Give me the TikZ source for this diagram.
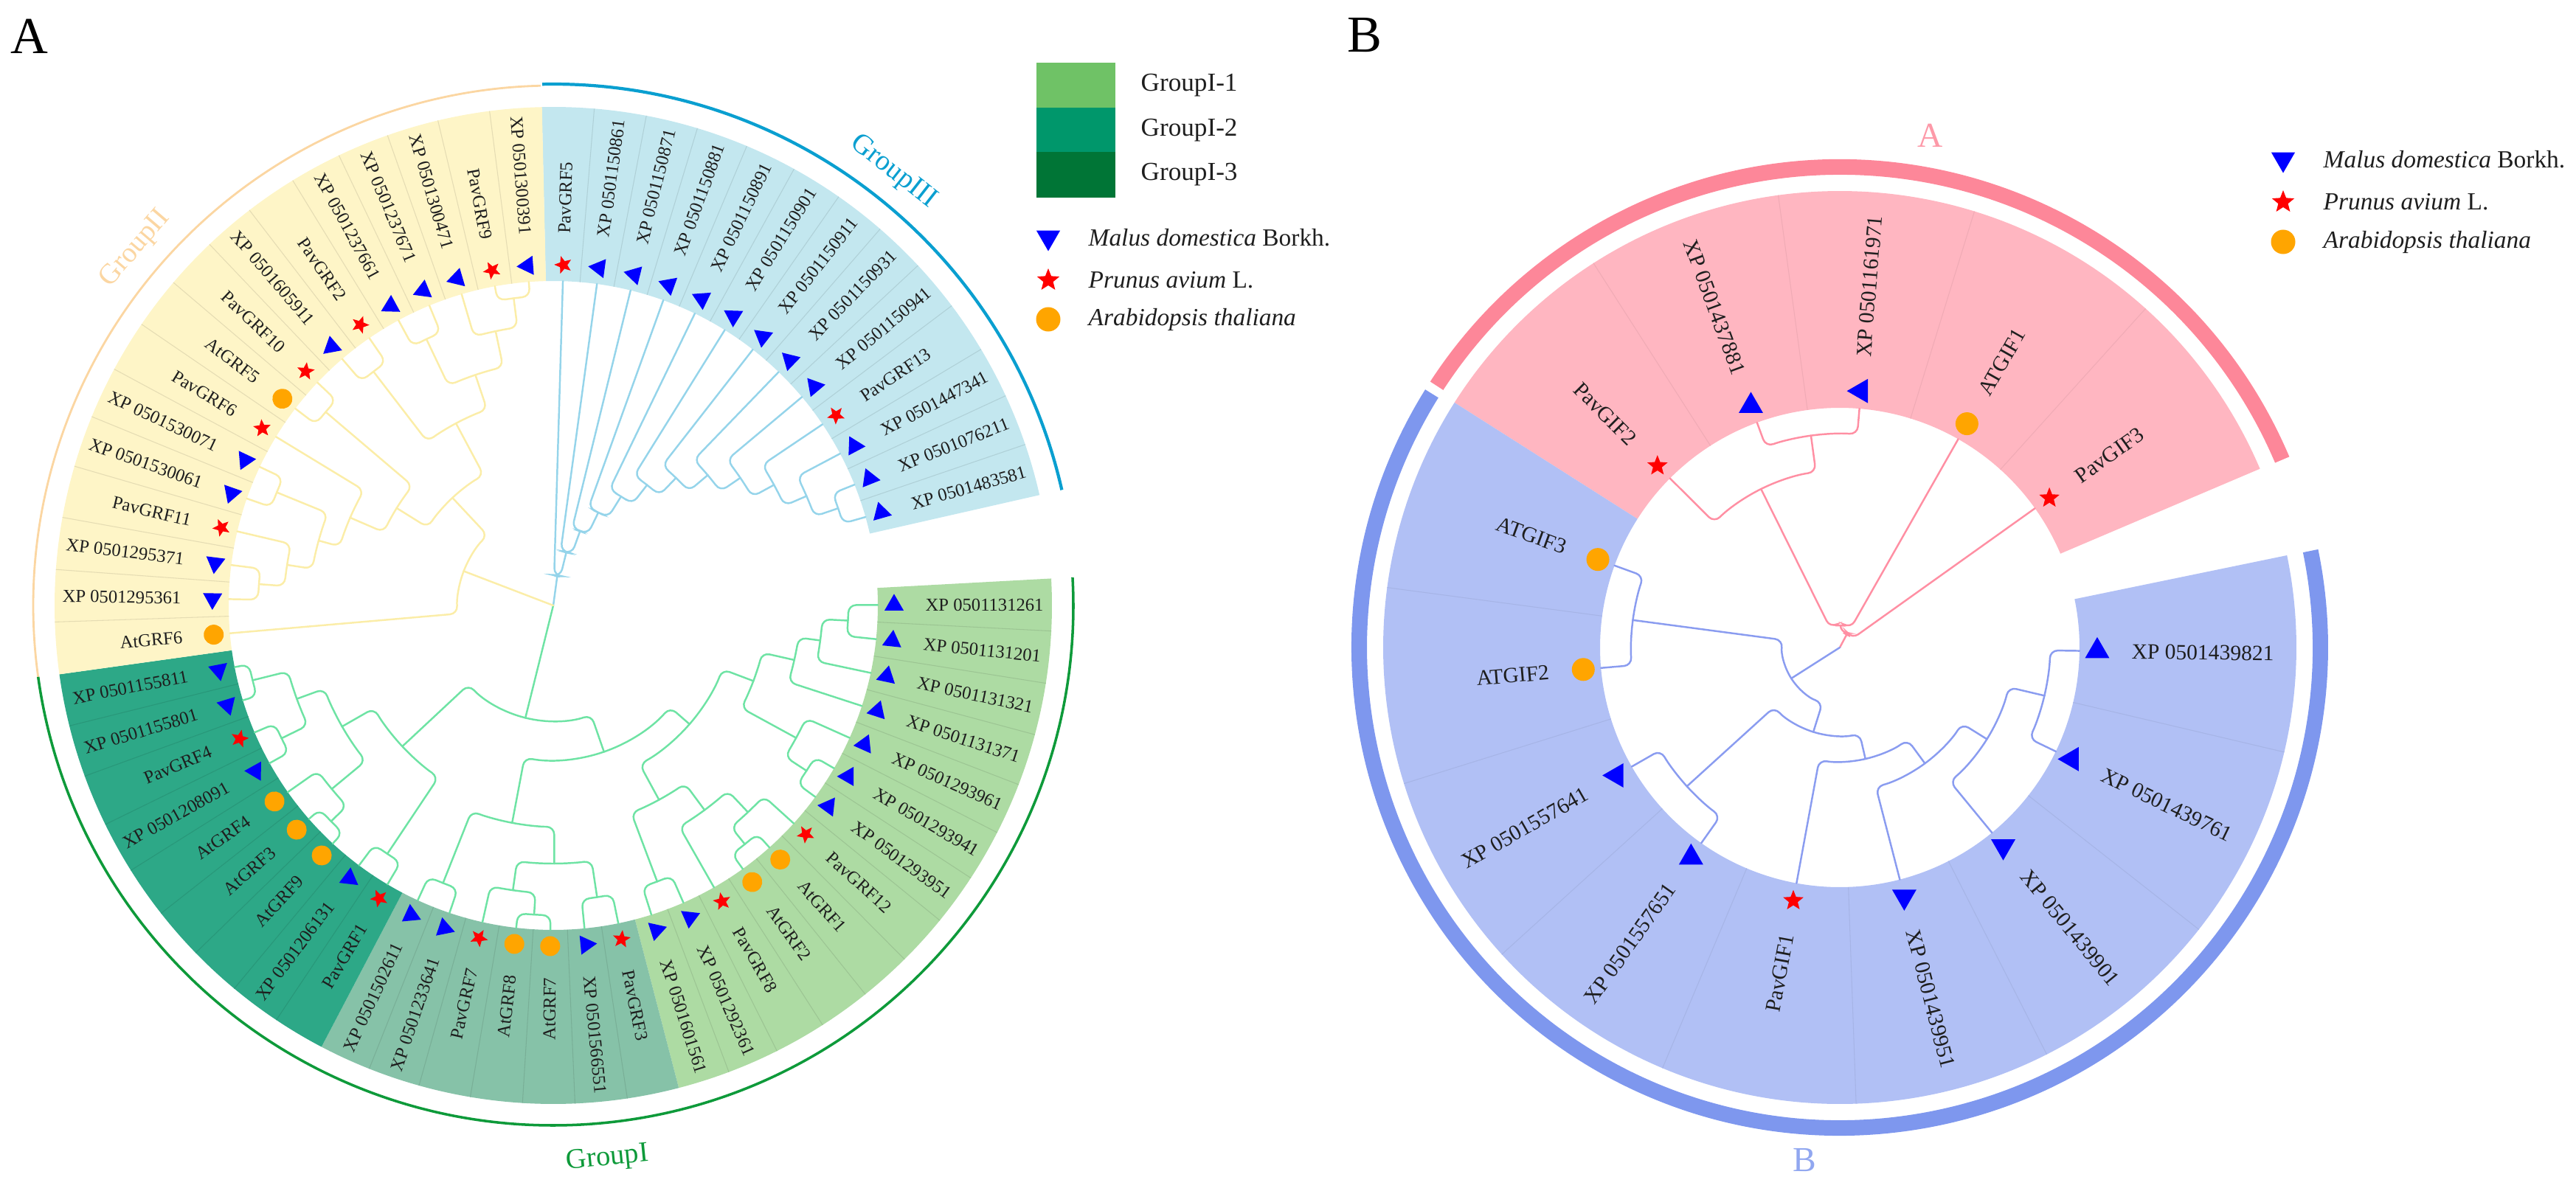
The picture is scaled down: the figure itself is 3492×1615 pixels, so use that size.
\documentclass[tikz,border=0pt]{standalone}
\usepackage{fontspec}
\setmainfont{Liberation Serif}
\usetikzlibrary{shapes.geometric}

\definecolor{bandII}{HTML}{FEF5C7}
\definecolor{bandIII}{HTML}{C3E7EF}
\definecolor{bandIa}{HTML}{ADDBA3}
\definecolor{bandIb}{HTML}{86C2A8}
\definecolor{bandIc}{HTML}{2DA887}
\definecolor{treeII}{HTML}{FBEDA8}
\definecolor{treeIII}{HTML}{95D4EA}
\definecolor{treeI}{HTML}{6EE3A4}
\definecolor{arcII}{HTML}{FBD6A2}
\definecolor{arcIII}{HTML}{0A9FD0}
\definecolor{arcI}{HTML}{0E9A3A}
\definecolor{legIa}{HTML}{6FC266}
\definecolor{legIb}{HTML}{00976B}
\definecolor{legIc}{HTML}{007536}
\definecolor{bandA}{HTML}{FFB6C1}
\definecolor{bandB}{HTML}{B1C0F5}
\definecolor{ringA}{HTML}{FD8799}
\definecolor{ringB}{HTML}{7E97EE}
\definecolor{treeA}{HTML}{FF8FA3}
\definecolor{treeB}{HTML}{8A9CF0}
\definecolor{malus}{HTML}{0000FF}
\definecolor{prunus}{HTML}{FF0000}
\definecolor{arab}{HTML}{FFA500}
\definecolor{leafgray}{HTML}{1E1E1E}

% one branch of a clade: in from the child, then along the arc of the clade
\newcommand{\stem}[4]{%
  \edef\brA{\csname a#2\endcsname}\edef\brR{\csname r#2\endcsname}%
  \draw[branch,#1] (\brA:\brR) -- (\brA:#3) arc[start angle=\brA, end angle=#4, radius=#3];}
\newcommand{\clade}[5][]{%
  \edef\chA{\csname a#3\endcsname}\edef\chB{\csname a#4\endcsname}%
  \pgfmathsetmacro{\midang}{(\chA+\chB)/2}%
  \expandafter\xdef\csname a#2\endcsname{\midang}%
  \expandafter\xdef\csname r#2\endcsname{#5}%
  \stem{#1}{#3}{#5}{\midang}\stem{#1}{#4}{#5}{\midang}}
\newcommand{\rootline}[2]{%
  \edef\brA{\csname a#2\endcsname}\edef\brR{\csname r#2\endcsname}%
  \draw[branch,#1] (\brA:\brR) -- (0,0);}

\begin{document}
\begin{tikzpicture}[x=0.01cm,y=0.01cm,
branch/.style={line width=0.7pt, rounded corners=3pt, line cap=round},
sepline/.style={line width=0.3pt},
leafA/.style={font=\fontsize{7}{8}\selectfont, text=leafgray, inner sep=0pt},
leafB/.style={font=\fontsize{8.4}{10}\selectfont, text=leafgray, inner sep=0pt},
mkA-t/.style={regular polygon, regular polygon sides=3, fill=malus, minimum size=0.30cm, inner sep=0pt},
mkA-s/.style={star, star points=5, star point ratio=2.3, fill=prunus, minimum size=0.25cm, inner sep=0pt},
mkA-c/.style={circle, fill=arab, minimum size=0.27cm, inner sep=0pt},
mkB-t/.style={regular polygon, regular polygon sides=3, fill=malus, minimum size=0.38cm, inner sep=0pt},
mkB-s/.style={star, star points=5, star point ratio=2.3, fill=prunus, minimum size=0.29cm, inner sep=0pt},
mkB-c/.style={circle, fill=arab, minimum size=0.31cm, inner sep=0pt},
grouplab/.style={font=\fontsize{11}{13}\selectfont, inner sep=0pt},
legbox/.style={minimum width=1.07cm, minimum height=0.61cm, inner sep=0pt},
legtxt/.style={font=\fontsize{9.5}{12}\selectfont, anchor=west, inner sep=0pt, text=leafgray},
panel/.style={font=\fontsize{20}{24}\selectfont, inner sep=0pt}]

\useasboundingbox (0,0) rectangle (3492,-1615);

\node[panel] (pa) at (40,-49) {A};
\node[panel] (pb) at (1850,-48) {B};

%%% A: GRF tree
\begin{scope}[shift={(750,-821)}]
\foreach \lab/\mk/\grp [count=\i from 0] in {PavGRF5/s/III, XP 0501150861/t/III,
  XP 0501150871/t/III, XP 0501150881/t/III, XP 0501150891/t/III, XP 0501150901/t/III,
  XP 0501150911/t/III, XP 0501150931/t/III, XP 0501150941/t/III, PavGRF13/s/III,
  XP 0501447341/t/III, XP 0501076211/t/III, XP 0501483581/t/III,
  XP 0501131261/t/Ia, XP 0501131201/t/Ia, XP 0501131321/t/Ia, XP 0501131371/t/Ia,
  XP 0501293961/t/Ia, XP 0501293941/t/Ia, XP 0501293951/t/Ia, PavGRF12/s/Ia,
  AtGRF1/c/Ia, AtGRF2/c/Ia, PavGRF8/s/Ia, XP 0501292361/t/Ia, XP 0501601561/t/Ia,
  PavGRF3/s/Ib, XP 0501566551/t/Ib, AtGRF7/c/Ib, AtGRF8/c/Ib, PavGRF7/s/Ib,
  XP 0501233641/t/Ib, XP 0501502611/t/Ib,
  PavGRF1/s/Ic, XP 0501206131/t/Ic, AtGRF9/c/Ic, AtGRF3/c/Ic, AtGRF4/c/Ic,
  XP 0501208091/t/Ic, PavGRF4/s/Ic, XP 0501155801/t/Ic, XP 0501155811/t/Ic,
  AtGRF6/c/II, XP 0501295361/t/II, XP 0501295371/t/II, PavGRF11/s/II,
  XP 0501530061/t/II, XP 0501530071/t/II, PavGRF6/s/II, AtGRF5/c/II, PavGRF10/s/II,
  XP 0501605911/t/II, PavGRF2/s/II, XP 0501237661/t/II, XP 0501237671/t/II,
  XP 0501300471/t/II, PavGRF9/s/II, XP 0501300391/t/II}{
  \pgfmathsetmacro{\ang}{88.3-6.04*\i-(\i>12)*9.7+(\i>41)*360}
  \expandafter\xdef\csname aA\i\endcsname{\ang}
  \expandafter\xdef\csname rA\i\endcsname{440}
  \pgfmathsetmacro{\angl}{\ang-3.02}
  \pgfmathsetmacro{\angr}{\ang+3.02}
  \fill[band\grp] (\angl:440) arc[start angle=\angl, end angle=\angr, radius=440]
    -- (\angr:676) arc[start angle=\angr, end angle=\angl, radius=676] -- cycle;
  \pgfmathtruncatemacro{\first}{(\i==0)+(\i==13)+(\i==26)+(\i==33)+(\i==42)}
  \ifnum\first=0
    \draw[sepline, draw=band\grp!90!black] (\angr:440) -- (\angr:676);
  \fi
  \node[mkA-\mk, rotate=\ang] (ma\i) at (\ang:462) {};
  \pgfmathtruncatemacro{\lft}{cos(\ang)<0}
  \ifnum\lft=1
    \pgfmathsetmacro{\rot}{\ang+180}
    \node[leafA, anchor=east, rotate=\rot] (la\i) at (\ang:504) {\lab};
  \else
    \node[leafA, anchor=west, rotate=\ang] (la\i) at (\ang:504) {\lab};
  \fi
}

% GroupIII
\clade[treeIII]{c11}{A11}{A12}{408}
\clade[treeIII]{c10}{A10}{c11}{374}
\clade[treeIII]{c9}{A9}{c10}{341}
\clade[treeIII]{c8}{A8}{c9}{307}
\clade[treeIII]{c7}{A7}{c8}{274}
\clade[treeIII]{c6}{A6}{c7}{240}
\clade[treeIII]{c5}{A5}{c6}{207}
\clade[treeIII]{c4}{A4}{c5}{174}
\clade[treeIII]{c3}{A3}{c4}{140}
\clade[treeIII]{c2}{A2}{c3}{107}
\clade[treeIII]{c1}{A1}{c2}{74}
\clade[treeIII]{c0}{A0}{c1}{40}
% GroupI
\clade[treeI]{g1}{A13}{A14}{400}
\clade[treeI]{g2}{g1}{A15}{365}
\clade[treeI]{g3}{g2}{A16}{335}
\clade[treeI]{g4a}{A18}{A19}{410}
\clade[treeI]{g4}{A17}{g4a}{375}
\clade[treeI]{g5}{g3}{g4}{290}
\clade[treeI]{g6a}{A21}{A22}{415}
\clade[treeI]{g6}{A20}{g6a}{385}
\clade[treeI]{g7}{g6}{A23}{345}
\clade[treeI]{g8}{A24}{A25}{400}
\clade[treeI]{g9}{g7}{g8}{300}
\clade[treeI]{g10}{g5}{g9}{245}
\clade[treeI]{h1}{A26}{A27}{400}
\clade[treeI]{h2a}{A28}{A29}{420}
\clade[treeI]{h2}{h2a}{A30}{390}
\clade[treeI]{h3}{h1}{h2}{350}
\clade[treeI]{h4}{A31}{A32}{405}
\clade[treeI]{h5}{h3}{h4}{300}
\clade[treeI]{k1}{A33}{A34}{405}
\clade[treeI]{k2a}{A35}{A36}{420}
\clade[treeI]{k2}{k2a}{A37}{390}
\clade[treeI]{k3a}{A38}{A39}{410}
\clade[treeI]{k3b}{A40}{A41}{420}
\clade[treeI]{k3}{k3a}{k3b}{370}
\clade[treeI]{k4}{k2}{k3}{330}
\clade[treeI]{k5}{k1}{k4}{280}
\clade[treeI]{m1}{g10}{h5}{210}
\clade[treeI]{gI}{m1}{k5}{157}
% GroupII
\clade[treeII]{n1}{A43}{A44}{400}
\clade[treeII]{n2}{n1}{A45}{365}
\clade[treeII]{n3}{A46}{A47}{405}
\clade[treeII]{n4}{n2}{n3}{330}
\clade[treeII]{n5}{n4}{A48}{300}
\clade[treeII]{n6}{A49}{A50}{405}
\clade[treeII]{n7}{n5}{n6}{250}
\clade[treeII]{n8}{A51}{A52}{400}
\clade[treeII]{n9}{A53}{A54}{400}
\clade[treeII]{n10a}{A56}{A57}{420}
\clade[treeII]{n10}{A55}{n10a}{380}
\clade[treeII]{n11}{n9}{n10}{330}
\clade[treeII]{n12}{n8}{n11}{280}
\clade[treeII]{n13}{n7}{n12}{200}
\clade[treeII]{gII}{A42}{n13}{130}
\rootline{treeIII}{c0}
\rootline{treeI}{gI}
\rootline{treeII}{gII}

\draw[arcII, line width=0.8pt] (187.9:705) arc[start angle=187.9, end angle=91.4, radius=705];
\draw[arcIII, line width=1.2pt] (91.2:707) arc[start angle=91.2, end angle=12.8, radius=707];
\draw[arcI, line width=1pt] (3.1:705) arc[start angle=3.1, end angle=-172.1, radius=705];
\node[grouplab, text=arcII, rotate=49.5] (gl2) at (139.5:745) {GroupII};
\node[grouplab, text=arcIII, rotate=-38.1] (gl3) at (51.9:747) {GroupIII};
\node[grouplab, text=arcI, rotate=5.6] (gl1) at (-84.4:754) {GroupI};
\end{scope}

% legend of A
\node[legbox, fill=legIa] (box1) at (1458.5,-115.5) {};
\node[legbox, fill=legIb] (box2) at (1458.5,-176.5) {};
\node[legbox, fill=legIc] (box3) at (1458.5,-237) {};
\node[legtxt, font=\fontsize{10}{12}\selectfont] (tb1) at (1546,-115.5) {GroupI-1};
\node[legtxt, font=\fontsize{10}{12}\selectfont] (tb2) at (1546,-176.5) {GroupI-2};
\node[legtxt, font=\fontsize{10}{12}\selectfont] (tb3) at (1546,-237) {GroupI-3};
\node[mkB-t, minimum size=0.37cm, rotate=180] (lm1) at (1421,-322) {};
\node[mkB-s, minimum size=0.32cm] (lm2) at (1421,-380) {};
\node[mkB-c, minimum size=0.33cm] (lm3) at (1421,-433) {};
\node[legtxt] (lt1) at (1475,-322) {\textit{Malus domestica} Borkh.};
\node[legtxt] (lt2) at (1475,-380) {\textit{Prunus avium} L.};
\node[legtxt] (lt3) at (1475,-433) {\textit{Arabidopsis thaliana}};

%%% B: GIF tree
\begin{scope}[shift={(2494,-878)}]
\fill[ringA] (147.0:641) arc[start angle=147.0, end angle=23.0, radius=641]
  -- (23.0:662) arc[start angle=23.0, end angle=147.0, radius=662] -- cycle;
\fill[ringB] (11.6:641) arc[start angle=11.6, end angle=-211.9, radius=641]
  -- (-211.9:662) arc[start angle=-211.9, end angle=11.6, radius=662] -- cycle;
\foreach \lab/\mk/\grp/\tr [count=\i from 0] in {PavGIF2/s/A/0, XP 0501437881/t/A/0,
  XP 0501161971/t/A/90, ATGIF1/c/A/0, PavGIF3/s/A/0, XP 0501439821/t/B/0,
  XP 0501439761/t/B/90, XP 0501439901/t/B/180, XP 0501439951/t/B/180, PavGIF1/s/B/0,
  XP 0501557651/t/B/0, XP 0501557641/t/B/90, ATGIF2/c/B/0, ATGIF3/c/B/0}{
  \pgfmathsetmacro{\ang}{135.1-24.9*\i-(\i>4)*11.4}
  \expandafter\xdef\csname aB\i\endcsname{\ang}
  \expandafter\xdef\csname rB\i\endcsname{325}
  \pgfmathsetmacro{\angl}{\ang-12.45}
  \pgfmathsetmacro{\angr}{\ang+12.45}
  \fill[band\grp] (\angl:325) arc[start angle=\angl, end angle=\angr, radius=325]
    -- (\angr:619) arc[start angle=\angr, end angle=\angl, radius=619] -- cycle;
  \pgfmathtruncatemacro{\first}{(\i==0)+(\i==5)}
  \ifnum\first=0
    \draw[sepline, draw=band\grp!94!black] (\angr:325) -- (\angr:619);
  \fi
  \node[mkB-\mk, rotate=\tr] (mb\i) at (\ang:349) {};
  \pgfmathtruncatemacro{\lft}{cos(\ang)<0}
  \ifnum\lft=1
    \pgfmathsetmacro{\rot}{\ang+180}
    \node[leafB, anchor=east, rotate=\rot] (lb\i) at (\ang:395) {\lab};
  \else
    \node[leafB, anchor=west, rotate=\ang] (lb\i) at (\ang:395) {\lab};
  \fi
}
\clade[treeA]{p1}{B1}{B2}{290}
\clade[treeA]{p2}{B0}{p1}{240}
\clade[treeA]{p3}{p2}{B3}{30}
\clade[treeA]{pA}{p3}{B4}{20}
\clade[treeB]{b1}{B12}{B13}{283}
\clade[treeB]{b2}{B10}{B11}{280}
\clade[treeB]{b3}{B5}{B6}{285}
\clade[treeB]{b4}{b3}{B7}{235}
\clade[treeB]{b5}{B8}{b4}{195}
\clade[treeB]{b6}{B9}{b5}{155}
\clade[treeB]{b7}{b2}{b6}{120}
\clade[treeB]{bB}{b1}{b7}{78}
\rootline{treeA}{pA}
\rootline{treeB}{bB}

\node[font=\fontsize{13.5}{16}\selectfont, text=ringA!85!white, inner sep=0pt] (cA) at (80:705) {A};
\node[font=\fontsize{13.5}{16}\selectfont, text=ringB!85!white, inner sep=0pt] (cB) at (-93.9:697) {B};
\end{scope}

% legend of B
\node[mkB-t, minimum size=0.37cm, rotate=180] (lm4) at (3095,-216) {};
\node[mkB-s, minimum size=0.32cm] (lm5) at (3095,-274) {};
\node[mkB-c, minimum size=0.33cm] (lm6) at (3095,-328) {};
\node[legtxt] (lt4) at (3149,-216) {\textit{Malus domestica} Borkh.};
\node[legtxt] (lt5) at (3149,-274) {\textit{Prunus avium} L.};
\node[legtxt] (lt6) at (3149,-328) {\textit{Arabidopsis thaliana}};

\end{tikzpicture}
\end{document}
